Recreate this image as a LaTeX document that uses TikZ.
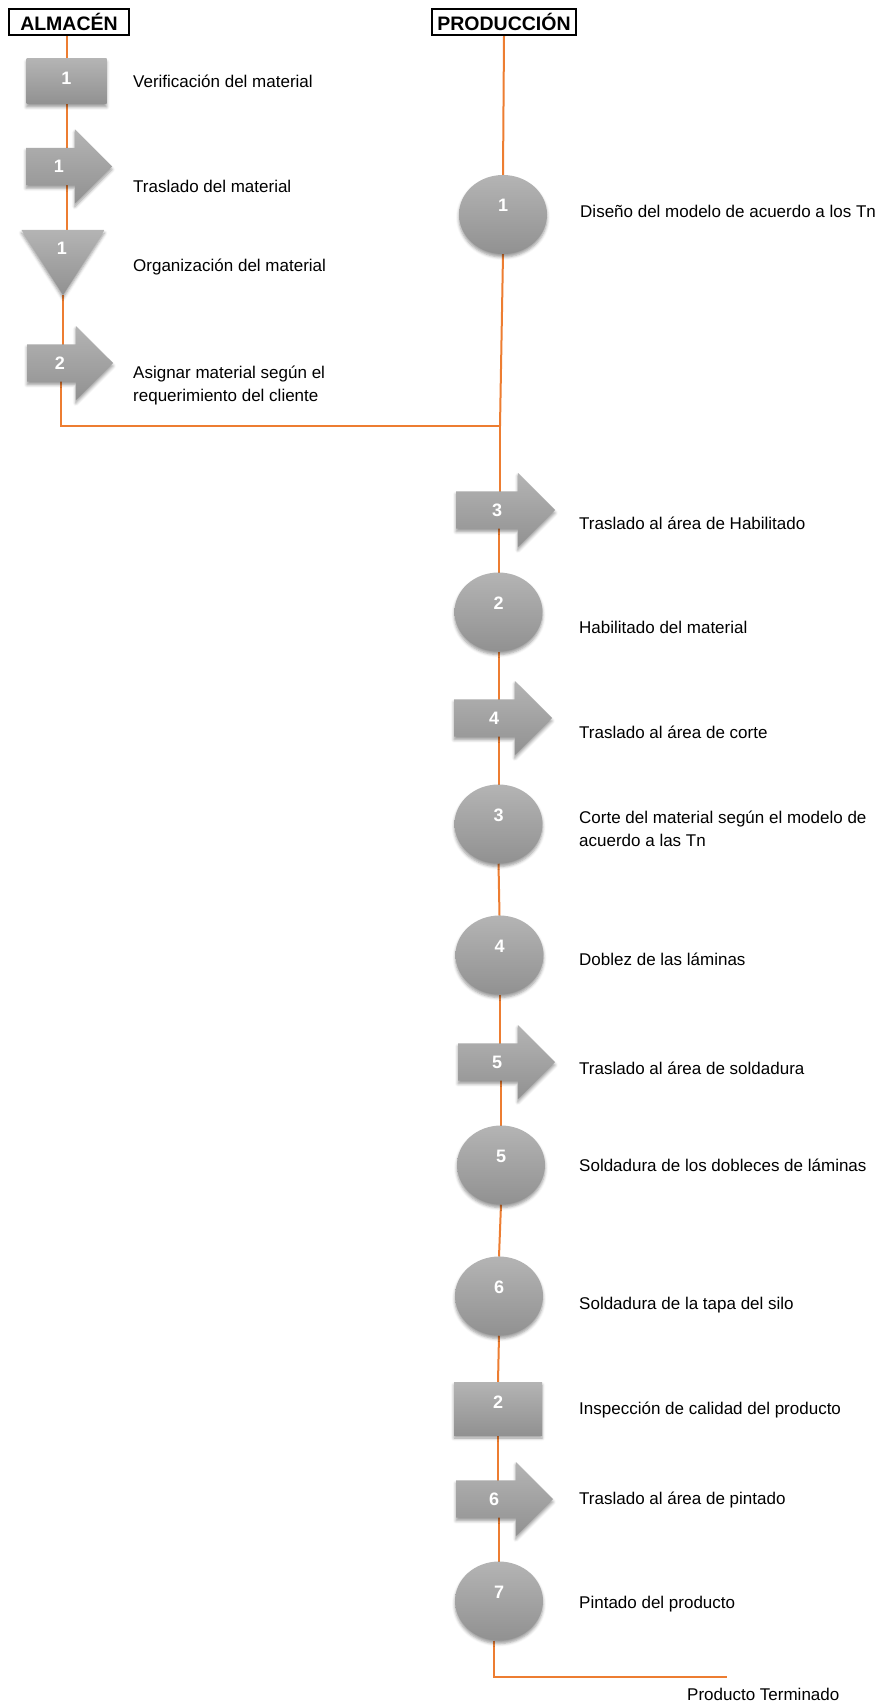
\documentclass[tikz,border=0pt]{standalone}
\usepackage{fontspec}
\setmainfont{Liberation Sans}
\usetikzlibrary{shapes.geometric,shapes.arrows,shadows.blur,calc}
\definecolor{flowline}{RGB}{237,125,49}
\definecolor{stepTop}{RGB}{180,180,180}
\definecolor{stepBot}{RGB}{145,145,145}
\pgfdeclarelayer{background}
\pgfsetlayers{background,main}
\tikzset{
  flow/.style={draw=flowline, line width=2pt},
  header/.style={draw=black, line width=1.4pt, inner sep=0pt,
    font=\fontsize{19.5}{22}\selectfont\bfseries},
  softshadow/.style={blur shadow={shadow xshift=0pt, shadow yshift=-3pt,
      shadow blur radius=3pt, shadow opacity=40}},
  graystep/.style={top color=stepTop, bottom color=stepBot, draw=none,
    inner sep=0pt, outer sep=0pt, softshadow},
  operation/.style={graystep, ellipse, minimum width=88pt, minimum height=79pt},
  inspection/.style={graystep, rectangle},
  transport/.style={graystep, single arrow, single arrow head extend=18.5pt,
    minimum width=0pt, inner xsep=0pt, inner ysep=18.5pt, anchor=tail},
  storage/.style={graystep, isosceles triangle, shape border rotate=270,
    isosceles triangle stretches, minimum width=83pt, minimum height=65pt,
    anchor=apex},
  num/.style={text=white, font=\fontsize{18}{18}\selectfont\bfseries, inner sep=0pt},
  desc/.style={anchor=base west, inner sep=0pt,
    font=\fontsize{17}{23}\selectfont, align=left},
}
\begin{document}
\begin{tikzpicture}[x=1pt, y=-1pt]
\useasboundingbox (0,0) rectangle (881,1704);
\begin{pgfonlayer}{background}
  \fill[white] (0,0) rectangle (881,1704);
\end{pgfonlayer}
% prime the shadow fading once, invisibly
\begin{scope}[transparency group, opacity=0]
  \path[softshadow, fill=white] (860,1690) rectangle (862,1692);
\end{scope}

% column headers
\node[header, minimum width=120pt, minimum height=26pt] (hdrA) at (69,22) {ALMACÉN};
\node[header, minimum width=144pt, minimum height=26pt] (hdrP) at (504,22) {PRODUCCIÓN};

% warehouse steps
\node[inspection, minimum width=80pt, minimum height=45pt] (r1) at (66.5,81.5) {};
\node[transport, minimum height=86pt] (a1) at (26,166.5) {};
\node[storage] (t1) at (63,295) {};
\node[transport, minimum height=86pt] (a2) at (27,363) {};

\node[num] at ($(r1.center)+(0,-3.5)$) {1};
\node[num] at ($(a1.tail)+(33,0)$) {1};
\node[num] at (62,248) {1};
\node[num] at ($(a2.tail)+(33,0)$) {2};

\node[desc] at (133,88) {Verificación del material};
\node[desc] at (133,193) {Traslado del material};
\node[desc] at (133,271) {Organización del material};
\node[desc] at (133,401) {Asignar material según el\\requerimiento del cliente};

% production steps
\node[operation] (c1) at (503,214.5) {};
\coordinate (join) at (500,426);
\node[transport, minimum height=99pt] (a3) at (456,510) {};
\node[operation] (c2) at (498.5,612) {};
\node[transport, minimum height=98pt] (a4) at (454,718) {};
\node[operation] (c3) at (498.5,824) {};
\node[operation] (c4) at (499.5,955) {};
\node[transport, minimum height=97pt] (a5) at (458,1062) {};
\node[operation] (c5) at (501,1165) {};
\node[operation] (c6) at (499,1296) {};
\node[inspection, minimum width=88pt, minimum height=53pt] (r2) at (498,1408.5) {};
\node[transport, minimum height=97pt] (a6) at (456,1499) {};
\node[operation] (c7) at (499,1601) {};
\coordinate (fin) at (727,1677);

\node[num] at ($(c1.center)+(0,-9)$) {1};
\node[num] at ($(a3.tail)+(41,0)$) {3};
\node[num] at ($(c2.center)+(0,-9)$) {2};
\node[num] at ($(a4.tail)+(40,0)$) {4};
\node[num] at ($(c3.center)+(0,-9)$) {3};
\node[num] at ($(c4.center)+(0,-9)$) {4};
\node[num] at ($(a5.tail)+(39,0)$) {5};
\node[num] at ($(c5.center)+(0,-9)$) {5};
\node[num] at ($(c6.center)+(0,-9)$) {6};
\node[num] at ($(r2.center)+(0,-6.5)$) {2};
\node[num] at ($(a6.tail)+(38,0)$) {6};
\node[num] at ($(c7.center)+(0,-9)$) {7};

\node[desc] at (580,218) {Diseño del modelo de acuerdo a los Tn};
\node[desc] at (579,529) {Traslado al área de Habilitado};
\node[desc] at (579,633) {Habilitado del material};
\node[desc] at (579,738) {Traslado al área de corte};
\node[desc] at (579,846) {Corte del material según el modelo de\\acuerdo a las Tn};
\node[desc] at (579,965) {Doblez de las láminas};
\node[desc] at (579,1074) {Traslado al área de soldadura};
\node[desc] at (579,1171) {Soldadura de los dobleces de láminas};
\node[desc] at (579,1309) {Soldadura de la tapa del silo};
\node[desc] at (579,1414) {Inspección de calidad del producto};
\node[desc] at (579,1504) {Traslado al área de pintado};
\node[desc] at (579,1608) {Pintado del producto};
\node[desc] at (687,1700) {Producto Terminado};

% flow lines, kept behind the symbols
\begin{pgfonlayer}{background}
  \draw[flow] (hdrA.south -| r1.north) -- (r1.north);
  \draw[flow] (r1.south) -- (r1.south |- a1.tail);
  \draw[flow] (r1.south |- a1.tail) -- (r1.south |- t1.north);
  \draw[flow] (t1.apex) -- (t1.apex |- a2.tail);
  \draw[flow] ([xshift=-2pt]t1.apex |- a2.tail) |- (join);
  \draw[flow] (hdrP.south) -- (c1.north);
  \draw[flow] (c1.south) -- (join);
  \draw[flow] (join) -- (join |- a3.tail);
  \draw[flow] (c2.north |- a3.tail) -- (c2.north);
  \draw[flow] (c2.south) -- (c2.south |- a4.tail);
  \draw[flow] (c3.north |- a4.tail) -- (c3.north);
  \draw[flow] (c3.south) -- (c4.north);
  \draw[flow] (c4.south) -- (c4.south |- a5.tail);
  \draw[flow] (c5.north |- a5.tail) -- (c5.north);
  \draw[flow] (c5.south) -- (c6.north);
  \draw[flow] (c6.south) -- (r2.north);
  \draw[flow] (r2.south) -- (r2.south |- a6.tail);
  \draw[flow] (c7.north |- a6.tail) -- (c7.north);
  \draw[flow] ([xshift=-5pt]c7.south) |- (fin);
\end{pgfonlayer}
\end{tikzpicture}
\end{document}
